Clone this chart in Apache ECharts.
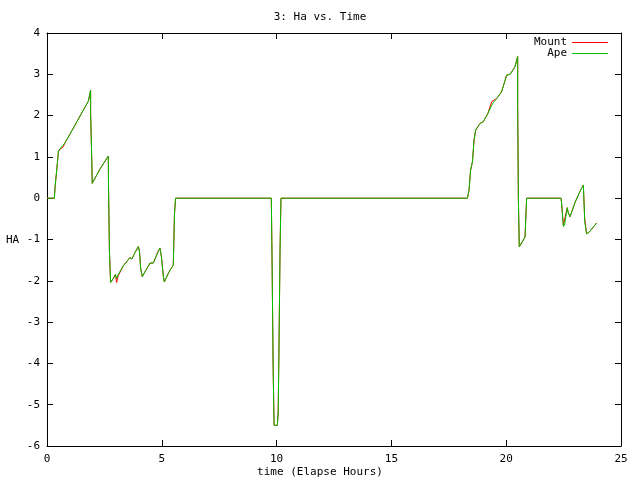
<!DOCTYPE html>
<html>
<head>
<meta charset="utf-8">
<script src="https://cdn.jsdelivr.net/npm/echarts@6/dist/echarts.min.js"></script>
<style>html,body{margin:0;padding:0;background:#fff}#c{width:640px;height:480px}</style>
</head>
<body>
<div id="c"></div>
<script>
var times = [0,0.32,0.35,0.42,0.45,0.5,0.6,0.7,0.8,1.0,1.3,1.6,1.8,1.85,1.9,1.9,1.95,1.97,2.3,2.67,2.68,2.72,2.77,2.89,2.98,3.03,3.1,3.32,3.61,3.7,3.83,3.98,4.03,4.08,4.15,4.3,4.49,4.63,4.85,4.92,4.98,5.07,5.11,5.3,5.5,5.52,5.55,5.6,9.77,9.8,9.85,9.89,10.03,10.05,10.07,10.1,10.15,10.19,18.31,18.38,18.45,18.53,18.6,18.67,18.86,19.0,19.2,19.37,19.45,19.6,19.8,19.95,20.02,20.17,20.38,20.5,20.5,20.53,20.57,20.82,20.89,22.39,22.42,22.49,22.55,22.66,22.7,22.78,23.0,23.2,23.36,23.4,23.42,23.5,23.6,23.94];
var ape = [0,0,0.26,0.26,0.84,1.14,1.22,1.28,1.36,1.55,1.85,2.15,2.35,2.5,2.62,2.06,0.92,0.36,0.7,1.02,0.26,-1.30,-2.04,-1.94,-1.85,-1.94,-1.85,-1.64,-1.44,-1.47,-1.32,-1.17,-1.3,-1.7,-1.9,-1.75,-1.57,-1.57,-1.29,-1.21,-1.4,-1.9,-2.03,-1.8,-1.62,-1.16,-0.41,0,0,-1.38,-4.12,-5.5,-5.5,-5.37,-5.14,-3.77,-1.26,0,0,0.19,0.68,0.88,1.41,1.65,1.81,1.85,2.05,2.25,2.32,2.42,2.58,2.85,2.98,3.0,3.18,3.43,2.25,0,-1.18,-0.94,0,0,-0.17,-0.69,-0.62,-0.23,-0.35,-0.45,-0.1,0.15,0.32,0.35,-0.57,-0.86,-0.83,-0.6];
var mount = [0,0,0.26,0.26,0.84,1.14,1.2,1.24,1.36,1.55,1.85,2.15,2.35,2.45,2.62,2.06,0.92,0.36,0.7,1.02,0.26,-1.30,-2.04,-1.94,-1.85,-2.04,-1.88,-1.64,-1.44,-1.47,-1.32,-1.17,-1.3,-1.7,-1.9,-1.75,-1.57,-1.57,-1.27,-1.21,-1.4,-1.9,-2.03,-1.8,-1.62,-1.16,-0.41,0,0,-1.38,-4.12,-5.5,-5.5,-5.37,-5.14,-3.77,-1.26,0,0,0.19,0.68,0.88,1.41,1.65,1.81,1.85,2.05,2.34,2.32,2.42,2.58,2.85,2.98,3.0,3.18,3.43,2.25,0,-1.18,-0.94,0,0,-0.17,-0.65,-0.62,-0.23,-0.35,-0.45,-0.1,0.15,0.32,0.35,-0.5,-0.86,-0.83,-0.6];
var seriesNames = ['Mount','Ape'];
var xTicks = [0,5,10,15,20,25];
var yTicks = [-6,-5,-4,-3,-2,-1,0,1,2,3,4];

function pairs(t, v){ var out=[]; for(var i=0;i<t.length;i++) out.push([t[i], v[i]]); return out; }
var F = 'DejaVu Sans Mono';
var chart = echarts.init(document.getElementById('c'), null, {renderer:'canvas'});
function axisCommon(){ return {
  axisLine:{show:true, onZero:false, lineStyle:{color:'#000', width:1}},
  axisTick:{show:true, inside:true, length:6, lineStyle:{color:'#000', width:1}},
  splitLine:{show:false}
};}
chart.setOption({
  animation:false,
  backgroundColor:'#fff',
  title:{text:'3: Ha vs. Time', left:'center', top:7, textStyle:{fontFamily:F, fontSize:11, fontWeight:'normal', color:'#000'}},
  grid:{left:47, right:19, top:33, bottom:34},
  legend:{
    data:[{name:seriesNames[0], icon:'rect'},{name:seriesNames[1], icon:'rect'}],
    orient:'vertical', right:27, top:32, align:'right', itemGap:0, itemWidth:36, itemHeight:1,
    textStyle:{fontFamily:F, fontSize:11, color:'#000', padding:[0,0,0,0]}
  },
  xAxis:[
    Object.assign({type:'value', min:0, max:25, interval:5, position:'bottom',
      axisLabel:{fontFamily:F, fontSize:11, color:'#000', margin:8}}, axisCommon()),
    Object.assign({type:'value', min:0, max:25, interval:5, position:'top',
      axisLabel:{show:false}}, axisCommon())
  ],
  yAxis:[
    Object.assign({type:'value', min:-6, max:4, interval:1, position:'left',
      axisLabel:{fontFamily:F, fontSize:11, color:'#000', margin:7}}, axisCommon()),
    Object.assign({type:'value', min:-6, max:4, interval:1, position:'right',
      axisLabel:{show:false}}, axisCommon())
  ],
  graphic:[
    {type:'text', left:6, top:235, style:{text:'HA', font:'11px "DejaVu Sans Mono"', fill:'#000'}},
    {type:'text', left:'center', top:467, style:{text:'time (Elapse Hours)', font:'11px "DejaVu Sans Mono"', fill:'#000'}}
  ],
  series:[
    {name:seriesNames[0], type:'line', data:pairs(times, mount), showSymbol:false, symbol:'none',
     lineStyle:{color:'#ff0000', width:1}, itemStyle:{color:'#ff0000'}},
    {name:seriesNames[1], type:'line', data:pairs(times, ape), showSymbol:false, symbol:'none',
     lineStyle:{color:'#00c000', width:1}, itemStyle:{color:'#00c000'}}
  ]
});
</script>
</body>
</html>
